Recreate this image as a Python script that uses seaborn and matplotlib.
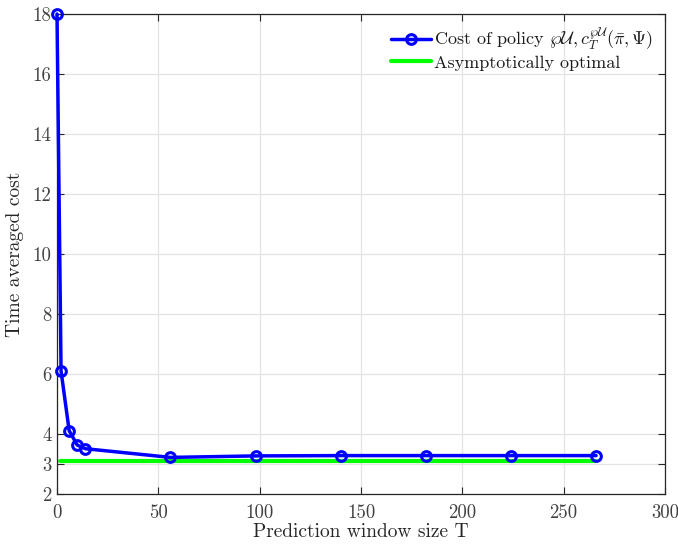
import matplotlib
matplotlib.use("Agg")
import matplotlib.pyplot as plt
import seaborn as sns
import pandas as pd

# Data
window_T = [0, 2, 6, 10, 14, 56, 98, 140, 182, 224, 266]
policy_cost = [18.0, 6.1, 4.11, 3.63, 3.51, 3.22, 3.27, 3.28, 3.28, 3.28, 3.28]
optimal_T = [1.5, 266]
optimal_cost = [3.1, 3.1]
x_ticks = [0, 50, 100, 150, 200, 250, 300]
y_ticks = [2, 3, 4, 6, 8, 10, 12, 14, 16, 18]

label_policy = r"Cost of policy $\wp\mathcal{U}, c_T^{\wp\mathcal{U}}(\bar{\pi}, \Psi)$"
label_opt = "Asymptotically optimal"

sns.set_style("ticks")
plt.rcParams["font.family"] = ["cmr10", "DejaVu Serif"]
plt.rcParams["mathtext.fontset"] = "cm"
plt.rcParams["axes.formatter.use_mathtext"] = True

fig = plt.figure(figsize=(6.78, 5.44), dpi=100)
ax = fig.add_axes([57 / 678, 1 - 494 / 544, (665 - 57) / 678, (494 - 14) / 544])

df1 = pd.DataFrame({"T": window_T, "cost": policy_cost})
df2 = pd.DataFrame({"T": optimal_T, "cost": optimal_cost})

sns.lineplot(data=df1, x="T", y="cost", ax=ax, color=(0, 0, 1), linewidth=2.5,
             marker="o", markersize=7, markerfacecolor="none",
             markeredgecolor=(0, 0, 1), markeredgewidth=2.2, label=label_policy,
             zorder=3, clip_on=False)
sns.lineplot(data=df2, x="T", y="cost", ax=ax, color=(0, 1, 0), linewidth=3,
             label=label_opt, zorder=2)

ax.set_xlim(0, 300)
ax.set_ylim(2, 18)
ax.set_xticks(x_ticks)
ax.set_yticks(y_ticks)
ax.set_xticklabels([str(v) for v in x_ticks])
ax.set_yticklabels([str(v) for v in y_ticks])
ax.grid(True, color="#e3e3e3", linewidth=0.9)
ax.set_axisbelow(True)
for s in ax.spines.values():
    s.set_visible(True)
    s.set_color("#262626")
    s.set_linewidth(0.9)
ax.tick_params(direction="in", length=5, width=0.8, color="#262626",
               top=True, right=True, labelsize=13.5, labelcolor="#404040", pad=4)
ax.tick_params(axis="x", pad=7)
ax.set_xlabel("Prediction window size T", fontsize=14, color="#262626", labelpad=1)
ax.set_ylabel("Time averaged cost", fontsize=14, color="#262626", labelpad=6)

leg = ax.legend(loc="upper right", frameon=False, fontsize=13, handlelength=2.2,
                handletextpad=0.2, borderaxespad=0.25, labelspacing=0.15)
for t in leg.get_texts():
    t.set_color("#1a1a1a")

fig.savefig("out.png", dpi=100)
